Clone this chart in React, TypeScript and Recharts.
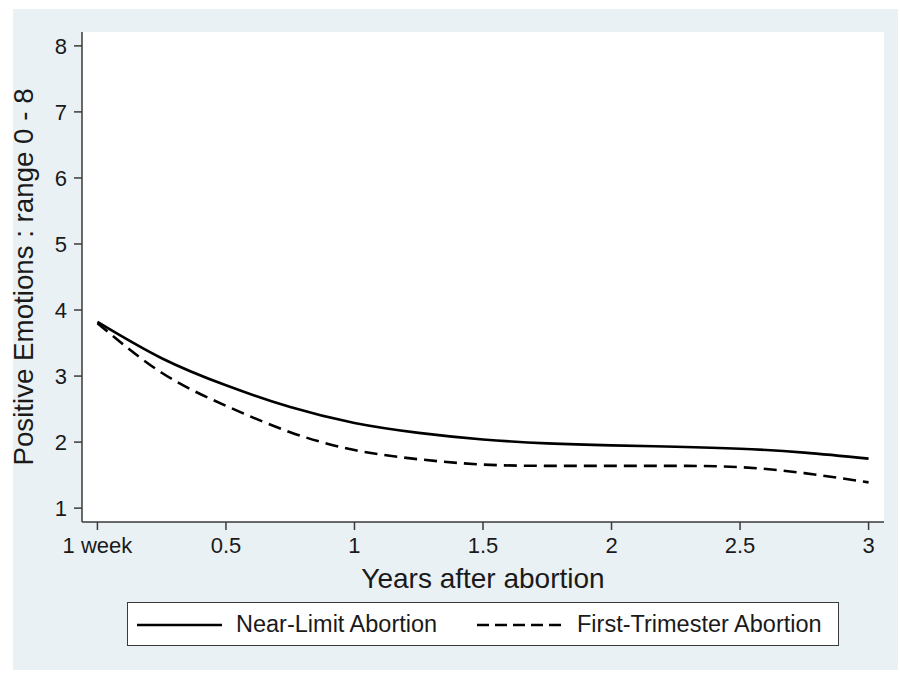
import React from "react";
import {
  LineChart,
  Line,
  XAxis,
  YAxis,
  CartesianGrid,
} from "recharts";

// years after abortion (0 = the 1-week interview)
const years = [0, 0.25, 0.5, 0.75, 1, 1.25, 1.5, 1.75, 2, 2.25, 2.5, 2.75, 3];
const nearLimit = [3.82, 3.27, 2.86, 2.53, 2.29, 2.14, 2.04, 1.98, 1.95, 1.93, 1.9, 1.84, 1.75];
const firstTrimester = [3.8, 3.05, 2.55, 2.15, 1.88, 1.74, 1.66, 1.64, 1.64, 1.64, 1.62, 1.53, 1.39];

const xTicks = [0, 0.5, 1, 1.5, 2, 2.5, 3];
const yTicks = [1, 2, 3, 4, 5, 6, 7, 8];

const seriesNames = ["Near-Limit Abortion", "First-Trimester Abortion"];

const FONT = "'Liberation Sans', Arial, Helvetica, sans-serif";
const INK = "#1a1a1a";
const AXIS = "#3a3a3a";

const data = years.map((x, i) => ({
  x,
  near: nearLimit[i],
  first: firstTrimester[i],
}));

const fmtX = (v: number) => (v === 0 ? "1 week" : String(v));

const App: React.FC = () => {
  return (
    <div
      style={{
        position: "absolute",
        left: 0,
        top: 0,
        width: 900,
        height: 673,
        background: "#fff",
        fontFamily: FONT,
      }}
    >
      <div
        style={{
          position: "absolute",
          left: 13,
          top: 9,
          width: 885,
          height: 661,
          background: "#eaf1f4",
        }}
      />
      <div style={{ position: "absolute", left: 0, top: 0 }}>
        <LineChart
          width={900}
          height={673}
          data={data}
          margin={{ top: 32, right: 16, bottom: 81, left: 0 }}
        >
          <CartesianGrid horizontal={false} vertical={false} fill="#fff" />
          <XAxis
            dataKey="x"
            type="number"
            domain={[-0.06, 3.06]}
            ticks={xTicks}
            tickFormatter={fmtX}
            height={70}
            tickSize={8}
            tickMargin={7}
            tick={{ fontSize: 22, fill: INK, fontFamily: FONT }}
            tickLine={{ stroke: AXIS, strokeWidth: 1.5 }}
            axisLine={{ stroke: AXIS, strokeWidth: 1.5 }}
            label={{
              value: "Years after abortion",
              position: "insideBottom",
              offset: 4,
              fontSize: 28,
              fill: INK,
              fontFamily: FONT,
            }}
          />
          <YAxis
            type="number"
            domain={[0.79, 8.21]}
            ticks={yTicks}
            width={82}
            tickSize={8}
            tickMargin={7}
            tick={{ fontSize: 22, fill: INK, fontFamily: FONT }}
            tickLine={{ stroke: AXIS, strokeWidth: 1.5 }}
            axisLine={{ stroke: AXIS, strokeWidth: 1.5 }}
            label={{
              value: "Positive Emotions : range 0 - 8",
              angle: -90,
              position: "insideLeft",
              offset: 23,
              fontSize: 27.7,
              fill: INK,
              fontFamily: FONT,
              style: { textAnchor: "middle" },
            }}
          />
          <Line
            dataKey="near"
            name={seriesNames[0]}
            type="natural"
            stroke="#000"
            strokeWidth={2.6}
            dot={false}
            isAnimationActive={false}
          />
          <Line
            dataKey="first"
            name={seriesNames[1]}
            type="natural"
            stroke="#000"
            strokeWidth={2.6}
            strokeDasharray="13 7"
            dot={false}
            isAnimationActive={false}
          />
        </LineChart>
      </div>

      {/* legend */}
      <div
        style={{
          position: "absolute",
          left: 127,
          top: 602,
          width: 712,
          height: 44,
          boxSizing: "border-box",
          border: `1.5px solid ${AXIS}`,
          background: "#fff",
        }}
      >
        <svg
          width={712}
          height={44}
          style={{ position: "absolute", left: -1.5, top: -1.5 }}
        >
          <line x1={10} x2={95} y1={23} y2={23} stroke="#000" strokeWidth={2.6} />
          <line
            x1={350}
            x2={438}
            y1={23}
            y2={23}
            stroke="#000"
            strokeWidth={2.6}
            strokeDasharray="12 6"
          />
        </svg>
        <span
          style={{
            position: "absolute",
            left: 108,
            top: 7,
            fontSize: 23.5,
            lineHeight: "28px",
            color: INK,
            whiteSpace: "nowrap",
          }}
        >
          {seriesNames[0]}
        </span>
        <span
          style={{
            position: "absolute",
            left: 449,
            top: 7,
            fontSize: 23.5,
            lineHeight: "28px",
            color: INK,
            whiteSpace: "nowrap",
          }}
        >
          {seriesNames[1]}
        </span>
      </div>
    </div>
  );
};

export default App;
